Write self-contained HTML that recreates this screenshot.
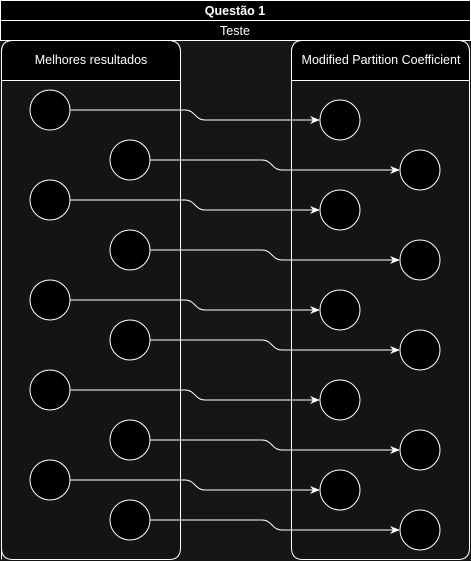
<!DOCTYPE html>
<html><head><meta charset="utf-8"><style>
html,body{margin:0;padding:0;background:#161616;}
svg{display:block;font-family:"Liberation Sans",sans-serif;}
</style></head><body>
<svg width="471" height="561" viewBox="0 0 471 561">
<defs><marker id="ar" markerWidth="10" markerHeight="10" refX="9" refY="5" orient="auto" markerUnits="userSpaceOnUse"><path d="M0,1 L10,5 L0,9 L3,5 Z" fill="#fff"/></marker></defs>
<rect x="0" y="0" width="471" height="561" fill="#161616"/>
<g>
<rect x="0.5" y="0.5" width="470" height="20" fill="#000" stroke="#fff"/>
<text x="235" y="15" text-anchor="middle" fill="#fff" font-size="12.5" font-weight="bold">Questão 1</text></g>
<g>
<rect x="0.5" y="20.5" width="470" height="20" fill="#000" stroke="#fff"/>
<text x="235" y="35" text-anchor="middle" fill="#fff" font-size="12.5">Teste</text></g>
<g>
<path d="M1.5 559.5 L1.5 52 Q1.5 40.5 13 40.5 L168 40.5 Q180.5 40.5 180.5 52 L180.5 548 Q180.5 559.5 169 559.5 L13 559.5 Q1.5 559.5 1.5 548 Z" fill="#141414" stroke="#fff"/>
<path d="M1.5 80.5 L1.5 52 Q1.5 40.5 13 40.5 L168 40.5 Q180.5 40.5 180.5 52 L180.5 80.5 Z" fill="#000" stroke="#fff"/>
<text x="91" y="64" text-anchor="middle" fill="#fff" font-size="12.5">Melhores resultados</text></g>
<g>
<path d="M291.5 52 Q291.5 40.5 303 40.5 L458 40.5 Q469.5 40.5 469.5 52 L469.5 548 Q469.5 559.5 458 559.5 L303 559.5 Q291.5 559.5 291.5 548 Z" fill="#141414" stroke="#fff"/>
<path d="M291.5 80.5 L291.5 52 Q291.5 40.5 303 40.5 L458 40.5 Q469.5 40.5 469.5 52 L469.5 80.5 Z" fill="#000" stroke="#fff"/>
<text x="381" y="64" text-anchor="middle" fill="#fff" font-size="12.5">Modified Partition Coefficient</text></g>
<g id="g"></g>
</svg>
<script>
const leftY=[110,160,200,250,300,340,390,440,480,520];
const rightY=[120,170,210,260,310,350,400,450,490,530];
const g=document.getElementById('g');const NS='http://www.w3.org/2000/svg';
for(let i=0;i<leftY.length;i++){
  const b=i%2===1;const lx=b?130:50, rx=b?420:340;const y1=leftY[i], y2=rightY[i];
  const mid=b?272:195;
  const p=document.createElementNS(NS,'path');
  p.setAttribute('d',`M${lx+20} ${y1} L${mid-10} ${y1} C${mid} ${y1} ${mid} ${y2} ${mid+10} ${y2} L${rx-21} ${y2}`);
  p.setAttribute('fill','none');p.setAttribute('stroke','#fff');p.setAttribute('marker-end','url(#ar)');
  
  
  g.appendChild(p);
  for(const [cx,cy,n] of [[lx,y1,'source-node'],[rx,y2,'target-node']]){
    const c=document.createElementNS(NS,'circle');
    c.setAttribute('cx',cx);c.setAttribute('cy',cy);c.setAttribute('r',20);
    c.setAttribute('fill','#000');c.setAttribute('stroke','#fff');
    
    
    g.appendChild(c);
  }
}
</script>
</body></html>
